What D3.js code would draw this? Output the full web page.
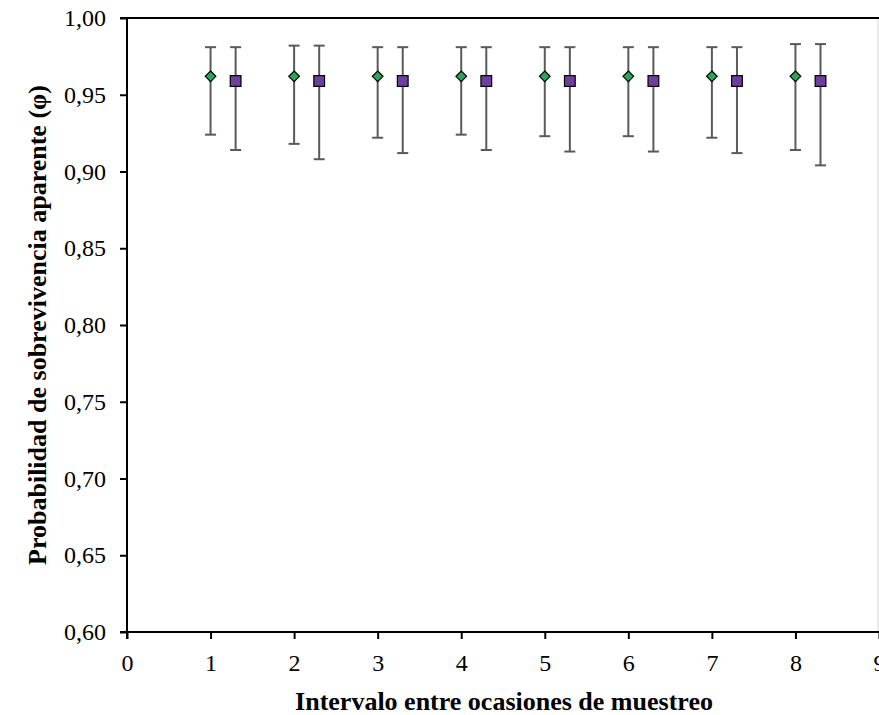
<!DOCTYPE html>
<html>
<head>
<meta charset="utf-8">
<script src="https://cdn.jsdelivr.net/npm/d3@7"></script>
<style>
  html, body { margin: 0; padding: 0; background: #fff; }
  svg { display: block; }
  text { font-family: "Liberation Serif", "Times New Roman", serif; fill: #000; }
</style>
</head>
<body>
<svg id="chart" width="879" height="715"></svg>
<script>
// Sampling intervals
const intervals = [1, 2, 3, 4, 5, 6, 7, 8];

// Model A (diamonds): apparent survival and 95% CI
const phiA   = [0.962, 0.962, 0.962, 0.962, 0.962, 0.962, 0.962, 0.962];
const lowerA = [0.924, 0.918, 0.922, 0.924, 0.923, 0.923, 0.922, 0.914];
const upperA = [0.981, 0.982, 0.981, 0.981, 0.981, 0.981, 0.981, 0.983];

// Model B (squares): apparent survival and 95% CI
const phiB   = [0.959, 0.959, 0.959, 0.959, 0.959, 0.959, 0.959, 0.959];
const lowerB = [0.914, 0.908, 0.912, 0.914, 0.913, 0.913, 0.912, 0.904];
const upperB = [0.981, 0.982, 0.981, 0.981, 0.981, 0.981, 0.981, 0.983];

const xTicks = [0, 1, 2, 3, 4, 5, 6, 7, 8, 9];
const yTicks = [0.60, 0.65, 0.70, 0.75, 0.80, 0.85, 0.90, 0.95, 1.00];

const xOffsetB = 0.3;

const svg = d3.select("#chart");
const margin = { left: 127, right: 0, top: 18, bottom: 83 };
const W = 879, H = 715;

const x = d3.scaleLinear().domain([0, 9]).range([margin.left, W - margin.right]);
const y = d3.scaleLinear().domain([0.60, 1.00]).range([H - margin.bottom, margin.top]);

const fmt = d => d3.format(".2f")(d).replace(".", ",");

// Frame: light right edge, black top
svg.append("line")
  .attr("x1", x(9) - 1).attr("x2", x(9) - 1)
  .attr("y1", y(1)).attr("y2", y(0.6))
  .attr("stroke", "#d4d4d4").attr("stroke-width", 1);
svg.append("line")
  .attr("x1", x(0)).attr("x2", x(9))
  .attr("y1", y(1)).attr("y2", y(1))
  .attr("stroke", "#000").attr("stroke-width", 2);

// Axes
const yAxis = d3.axisLeft(y).tickValues(yTicks).tickFormat(fmt).tickSize(7).tickPadding(14);
const xAxis = d3.axisBottom(x).tickValues(xTicks).tickFormat(d3.format("d")).tickSize(7).tickPadding(15);

const gy = svg.append("g").attr("transform", `translate(${x(0)},0)`).call(yAxis);
const gx = svg.append("g").attr("transform", `translate(0,${y(0.6)})`).call(xAxis);

[gx, gy].forEach(g => {
  g.select(".domain").attr("stroke", "#000").attr("stroke-width", 2);
  g.selectAll(".tick line").attr("stroke", "#000").attr("stroke-width", 2);
  g.selectAll(".tick text")
    .attr("font-family", "'Liberation Serif', 'Times New Roman', serif")
    .attr("font-size", 24).attr("fill", "#000");
});
gy.select(".domain").attr("d", `M-7,${y(0.6)}H0V${y(1)}H-7`);
gx.select(".domain").attr("d", `M${x(0)},7V0H${x(9)}`);

// Axis titles
svg.append("text")
  .attr("x", 504).attr("y", 710)
  .attr("text-anchor", "middle")
  .attr("font-size", 26).attr("font-weight", "bold")
  .text("Intervalo entre ocasiones de muestreo");

svg.append("text")
  .attr("transform", `translate(46,${(y(1) + y(0.6)) / 2}) rotate(-90)`)
  .attr("text-anchor", "middle")
  .attr("font-size", 26).attr("font-weight", "bold")
  .text("Probabilidad de sobrevivencia aparente (φ)");

// Error bars + markers
function series(phi, lo, hi, dx, kind, fill) {
  const g = svg.append("g");
  const data = intervals.map((t, i) => ({ t: t + dx, phi: phi[i], lo: lo[i], hi: hi[i] }));
  const bars = g.selectAll("g.err").data(data).join("g").attr("class", "err");
  bars.append("line")
    .attr("x1", d => x(d.t)).attr("x2", d => x(d.t))
    .attr("y1", d => y(d.lo)).attr("y2", d => y(d.hi))
    .attr("stroke", "#5a5a5a").attr("stroke-width", 2);
  bars.selectAll("line.cap").data(d => [[d.t, d.lo], [d.t, d.hi]]).join("line")
    .attr("class", "cap")
    .attr("x1", d => x(d[0]) - 5.5).attr("x2", d => x(d[0]) + 5.5)
    .attr("y1", d => y(d[1])).attr("y2", d => y(d[1]))
    .attr("stroke", "#5a5a5a").attr("stroke-width", 2);
  const sym = kind === "diamond"
    ? d3.symbol().type(d3.symbolDiamond2).size(72)
    : d3.symbol().type(d3.symbolSquare).size(115);
  g.selectAll("path.pt").data(data).join("path")
    .attr("class", "pt")
    .attr("transform", d => `translate(${x(d.t)},${y(d.phi)})`)
    .attr("d", sym)
    .attr("fill", fill).attr("stroke", "#000").attr("stroke-width", 1.2);
}

series(phiA, lowerA, upperA, 0, "diamond", "#2aa55a");
series(phiB, lowerB, upperB, xOffsetB, "square", "#6f3fa0");
</script>
</body>
</html>
